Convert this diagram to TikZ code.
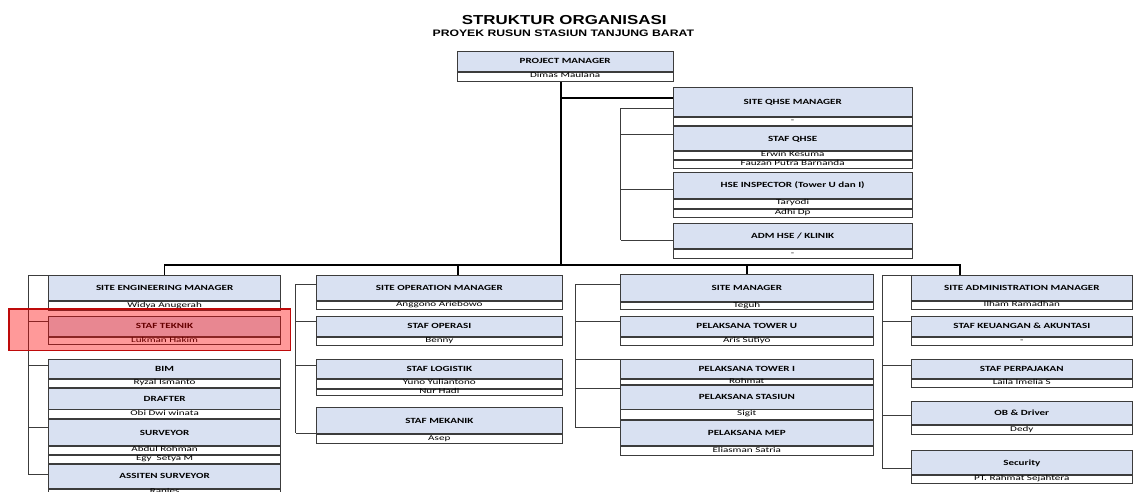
\documentclass[tikz,border=0pt]{standalone}
\usepackage{fontspec}
\setmainfont{Carlito}
\newfontfamily\boxfont{Carlito}[FakeStretch=1.4]
\newfontfamily\namefont{Carlito}[FakeStretch=1.5]
\newfontfamily\titlefont{Liberation Sans}[FakeStretch=1.3]
\definecolor{headblue}{RGB}{217,225,242}
\definecolor{boxline}{RGB}{60,60,60}
\definecolor{markred}{RGB}{190,10,10}

\tikzset{
  head/.style={draw=boxline, fill=headblue, line width=0.9pt, inner sep=0pt, anchor=north west,
    font=\boxfont\bfseries\fontsize{7.9}{8}\selectfont, text height=5pt, text depth=0pt},
  who/.style={draw=boxline, fill=white, line width=0.9pt, inner sep=0pt, anchor=north west,
    font=\namefont\fontsize{7.4}{8}\selectfont, text height=4.1pt, text depth=1.5pt},
  pmcol/.style={minimum width=216pt},
  qhsecol/.style={minimum width=239pt},
  engcol/.style={minimum width=231.7pt},
  opscol/.style={minimum width=245.7pt},
  sitecol/.style={minimum width=252.7pt},
  admcol/.style={minimum width=220.7pt},
  link/.style={draw=boxline, line width=0.8pt},
  trunk/.style={draw=black, line width=1.7pt},
  hilite/.style={draw=markred, line width=1.1pt, fill=red, fill opacity=0.4},
}

\begin{document}
\begin{tikzpicture}[x=1pt, y=-1pt]
\useasboundingbox (0,0) rectangle (1133,492);
\fill[white] (0,0) rectangle (1133,492);
\clip (0,0) rectangle (1133,492);

% judul
\node[font=\titlefont\bfseries\fontsize{13}{14}\selectfont, anchor=base] (title) at (564.2,25) {STRUKTUR ORGANISASI};
\node[font=\titlefont\bfseries\fontsize{9.4}{10}\selectfont, anchor=base] (subtitle) at (563.3,36.7) {PROYEK RUSUN STASIUN TANJUNG BARAT};

% project manager
\node[head, pmcol, minimum height=20] (pm) at (456.7,50.7) {PROJECT MANAGER};
\node[who, pmcol, minimum height=9.3] (pmname) at (pm.south west) {Dimas Maulana};

% QHSE
\node[head, qhsecol, minimum height=28.4] (qm) at (672.7,87.3) {SITE QHSE MANAGER};
\node[who, qhsecol, minimum height=8.6] (qm1) at (qm.south west) {-};
\node[head, qhsecol, minimum height=24] (qs) at (qm1.south west) {STAF QHSE};
\node[who, qhsecol, minimum height=8] (qs1) at (qs.south west) {Erwin Kesuma};
\node[who, qhsecol, minimum height=8] (qs2) at (qs1.south west) {Fauzan Putra Barnanda};
\node[head, qhsecol, minimum height=25.4] (qi) at (672.7,172.3) {HSE INSPECTOR (Tower U dan I)};
\node[who, qhsecol, minimum height=9] (qi1) at (qi.south west) {Taryodi};
\node[who, qhsecol, minimum height=8] (qi2) at (qi1.south west) {Adhi Dp};
\node[head, qhsecol, minimum height=25] (qa) at (672.7,223.3) {ADM HSE / KLINIK};
\node[who, qhsecol, minimum height=8.4] (qa1) at (qa.south west) {-};

% engineering
\node[head, engcol, minimum height=25] (sem) at (48.3,275) {SITE ENGINEERING MANAGER};
\node[who, engcol, minimum height=9] (sem1) at (sem.south west) {Widya Anugerah};
\node[head, engcol, minimum height=20] (teknik) at (48.3,315.7) {STAF TEKNIK};
\node[who, engcol, minimum height=7.6] (teknik1) at (teknik.south west) {Lukman Hakim};
\node[head, engcol, minimum height=18.7] (bim) at (48.3,359) {BIM};
\node[who, engcol, minimum height=8.3] (bim1) at (bim.south west) {Ryzal Ismanto};
\node[head, engcol, minimum height=20.7] (drafter) at (bim1.south west) {DRAFTER};
\node[who, engcol, minimum height=8.6] (drafter1) at (drafter.south west) {Obi Dwi winata};
\node[head, engcol, minimum height=26.4] (surveyor) at (drafter1.south west) {SURVEYOR};
\node[who, engcol, minimum height=7.6] (surveyor1) at (surveyor.south west) {Abdul Rohman};
\node[who, engcol, minimum height=8] (surveyor2) at (surveyor1.south west) {Egy\ \ Setya M};
\node[head, engcol, minimum height=24.4] (asisten) at (surveyor2.south west) {ASSITEN SURVEYOR};
\node[who, engcol, minimum height=6.6] (asisten1) at (asisten.south west) {Ranjes};
\node[who, engcol, minimum height=8] (asisten2) at (asisten1.south west) {Nova Hermanto};

% operation
\node[head, opscol, minimum height=25] (som) at (316,275) {SITE OPERATION MANAGER};
\node[who, opscol, minimum height=8.3] (som1) at (som.south west) {Anggono Ariebowo};
\node[head, opscol, minimum height=20.3] (operasi) at (316,315.7) {STAF OPERASI};
\node[who, opscol, minimum height=8] (operasi1) at (operasi.south west) {Benny};
\node[head, opscol, minimum height=18.7] (logistik) at (316,359) {STAF LOGISTIK};
\node[who, opscol, minimum height=9] (logistik1) at (logistik.south west) {Yuno Yuliantono};
\node[who, opscol, minimum height=6] (logistik2) at (logistik1.south west) {Nur Hadi};
\node[head, opscol, minimum height=26] (mekanik) at (316,407.3) {STAF MEKANIK};
\node[who, opscol, minimum height=8.4] (mekanik1) at (mekanik.south west) {Asep};

% site
\node[head, sitecol, minimum height=26.7] (sm) at (620,274) {SITE MANAGER};
\node[who, sitecol, minimum height=7.6] (sm1) at (sm.south west) {Teguh};
\node[head, sitecol, minimum height=20.3] (toweru) at (620,315.7) {PELAKSANA TOWER U};
\node[who, sitecol, minimum height=8] (toweru1) at (toweru.south west) {Aris Sutiyo};
\node[head, sitecol, minimum height=18.7] (toweri) at (620,359) {PELAKSANA TOWER I};
\node[who, sitecol, minimum height=5.6] (toweri1) at (toweri.south west) {Rohmat};
\node[head, sitecol, minimum height=23.4] (stasiun) at (toweri1.south west) {PELAKSANA STASIUN};
\node[who, sitecol, minimum height=9.3] (stasiun1) at (stasiun.south west) {Sigit};
\node[head, sitecol, minimum height=25.7] (mep) at (stasiun1.south west) {PELAKSANA MEP};
\node[who, sitecol, minimum height=8.3] (mep1) at (mep.south west) {Eliasman Satria};

% administration
\node[head, admcol, minimum height=25] (sam) at (911,275) {SITE ADMINISTRATION MANAGER};
\node[who, admcol, minimum height=8.3] (sam1) at (sam.south west) {Ilham Ramadhan};
\node[head, admcol, minimum height=20] (keu) at (911,315.7) {STAF KEUANGAN \& AKUNTASI};
\node[who, admcol, minimum height=8.3] (keu1) at (keu.south west) {-};
\node[head, admcol, minimum height=18.7] (pajak) at (911,359) {STAF PERPAJAKAN};
\node[who, admcol, minimum height=8.3] (pajak1) at (pajak.south west) {Laila Imelia S};
\node[head, admcol, minimum height=23.3] (ob) at (911,400.7) {OB \& Driver};
\node[who, admcol, minimum height=9.3] (ob1) at (ob.south west) {Dedy};
\node[head, admcol, minimum height=24.3] (security) at (911,450) {Security};
\node[who, admcol, minimum height=7.4] (security1) at (security.south west) {PT. Rahmat Sejahtera};

% garis komando
\coordinate (pmfoot) at ([xshift=-4pt]pmname.south);
\coordinate (qtap) at ([yshift=-11pt]qm.north west);
\draw[trunk] (sem.north) -- ++(0,-10) coordinate (busL) -| ([xshift=49pt]sam.north west);
\draw[trunk] (pmfoot) -- (pmfoot |- busL);
\draw[trunk] (pmfoot |- qtap) -- (qtap);
\draw[trunk] ([xshift=141.7pt]som.north west) -- ++(0,-10);
\draw[trunk] (sm.north) -- (sm.north |- busL);

% garis staf
\draw[link] ([xshift=-52pt,yshift=-21pt]qm.north west) -- ([xshift=-52pt,yshift=-16.7pt]qa.north west);
\foreach \n/\d in {qm/21, qs/8, qi/17, qa/16.7}
  \draw[link] ([yshift=-\d pt]\n.north west) -- ++(-52,0);

\draw[link] ([xshift=-20pt]sem.north west) -- ([xshift=-20pt,yshift=-11pt]asisten.north west);
\foreach \n/\d in {sem/0, teknik/6, bim/6, surveyor/8, asisten/11}
  \draw[link] ([yshift=-\d pt]\n.north west) -- ++(-20,0);

\draw[link] ([xshift=-20.3pt,yshift=-9pt]som.north west) -- ([xshift=-20.3pt,yshift=-26pt]mekanik.north west);
\foreach \n/\d in {som/9, operasi/6, logistik/6, mekanik/26}
  \draw[link] ([yshift=-\d pt]\n.north west) -- ++(-20.3,0);

\draw[link] ([xshift=-45pt,yshift=-10pt]sm.north west) -- ([xshift=-45pt,yshift=-7.3pt]mep.north west);
\foreach \n/\d in {sm/10, toweru/6, toweri/0, stasiun/3.4, mep/7.3}
  \draw[link] ([yshift=-\d pt]\n.north west) -- ++(-45,0);

\draw[link] ([xshift=-28.7pt]sam.north west) -- ([xshift=-28.7pt,yshift=-18.3pt]security.north west);
\foreach \n/\d in {sam/0, keu/5.3, pajak/6, ob/14.3, security/18.3}
  \draw[link] ([yshift=-\d pt]\n.north west) -- ++(-28.7,0);

% sorotan
\draw[hilite] (9,309) rectangle (290.7,350.7);
\end{tikzpicture}
\end{document}
